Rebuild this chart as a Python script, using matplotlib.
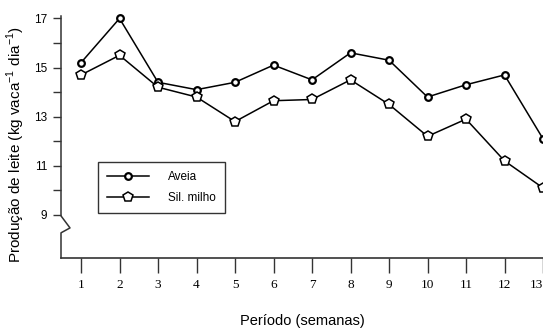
import numpy as np
import matplotlib
matplotlib.use("Agg")
import matplotlib.pyplot as plt
import matplotlib.transforms as mtransforms

plt.rcParams['font.family'] = ['Liberation Sans', 'DejaVu Sans']
plt.rcParams['mathtext.fontset'] = 'custom'
plt.rcParams['mathtext.rm'] = 'Liberation Sans'

# data
semanas = list(range(1, 14))
aveia = [15.2, 17.0, 14.4, 14.1, 14.4, 15.1, 14.5, 15.6, 15.3, 13.8, 14.3, 14.7, 12.1]
sil_milho = [14.7, 15.5, 14.2, 13.8, 12.8, 13.65, 13.7, 14.5, 13.5, 12.2, 12.9, 11.2, 10.1]
yticks_major = [9, 11, 13, 15, 17]
yticks_minor = [10, 12, 14, 16]

fig = plt.figure(figsize=(5.43, 3.31), dpi=100)
W, H = 543.0, 331.0
ax = fig.add_axes([61 / W, 1 - 258 / H, 482 / W, 242 / H])

ax.plot(semanas, aveia, color='black', lw=1.1, marker='o', ms=4.8,
        mfc='white', mec='black', mew=1.6, clip_on=False, label='Aveia', zorder=3)
ax.plot(semanas, sil_milho, color='black', lw=1.1, marker='p', ms=7.5,
        mfc='white', mec='black', mew=1.1, clip_on=False, label='Sil. milho', zorder=3)

ax.set_xlim(0.48, 13.0)
ax.set_ylim(7.245, 17.1)

for s in ['top', 'right', 'left']:
    ax.spines[s].set_visible(False)
ax.spines['bottom'].set_linewidth(1.2)
ax.spines['bottom'].set_color('#333333')

# broken y axis drawn by hand
tr = mtransforms.blended_transform_factory(ax.transAxes, ax.transData)
dx = 9 / 482
ax.plot([0, 0, dx, 0, 0], [17.1, 8.96, 8.47, 8.27, 7.245], color='#333333',
        lw=1.1, transform=tr, clip_on=False)

ax.set_yticks(yticks_major)
ax.set_yticks(yticks_minor, minor=True)
ax.tick_params(axis='y', which='major', length=6, width=1, pad=4, labelsize=8.5,
               color='#333333')
ax.tick_params(axis='y', which='minor', length=6, width=1, color='#333333')

ax.set_xticks(semanas)
ax.tick_params(axis='x', length=11, width=1, pad=4, labelsize=9.5, color='#333333')
xlabs = ax.get_xticklabels()
for lab in xlabs:
    lab.set_fontfamily('Liberation Serif')
xlabs[-1].set_horizontalalignment('right')

ax.set_ylabel(r'Produção de leite (kg vaca$^{\mathregular{-1}}$ dia$^{\mathregular{-1}}$)',
              fontsize=11, labelpad=5)
ax.yaxis.label.set_y(0.47)
ax.set_xlabel('Período (semanas)', fontsize=10.5, labelpad=17)

leg = ax.legend(loc='upper left', bbox_to_anchor=(0.0768, 0.397), borderaxespad=0,
                fancybox=False, frameon=True, edgecolor='black', fontsize=8.5,
                handlelength=3.6, borderpad=0.75, labelspacing=0.8, handletextpad=1.6)
leg.get_frame().set_linewidth(1.0)

fig.savefig('out.png', dpi=100)
